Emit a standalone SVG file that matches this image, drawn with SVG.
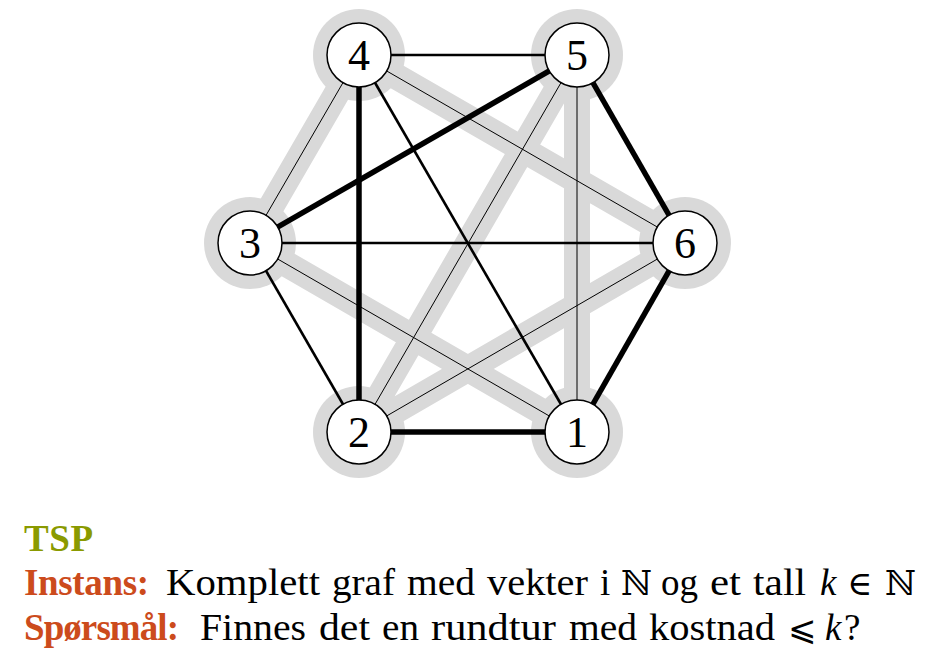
<svg xmlns="http://www.w3.org/2000/svg" width="932" height="671" viewBox="0 0 932 671">
<style>
.halo{fill:#d9d9d9}
.tour{stroke:#d9d9d9;stroke-width:26;stroke-linecap:round;stroke-linejoin:round;fill:none}
.e{stroke:#000;fill:none}
.thin{stroke-width:1}
.med{stroke-width:2.6}
.thick{stroke-width:5.5}
.node circle{fill:#fff;stroke:#000;stroke-width:1.5}
.node text{font-family:"Liberation Serif","DejaVu Serif",serif;font-size:44px;text-anchor:middle;fill:#000}
.t{font-family:"Liberation Serif","DejaVu Serif",serif;font-size:37px;fill:#000}
.b{font-weight:bold}
.g{fill:#8a9a00}
.o{fill:#cc4b1c}
.i{font-style:italic}
.m{font-family:"DejaVu Serif","DejaVu Sans",serif;font-size:34px}
.rel{font-family:"DejaVu Serif","DejaVu Sans",serif;font-size:34px}
</style>
<rect width="932" height="671" fill="#fff"/>
<g id="tour-highlight">
<circle class="halo" cx="359" cy="55" r="46"/>
<circle class="halo" cx="577" cy="55" r="46"/>
<circle class="halo" cx="250" cy="243" r="46"/>
<circle class="halo" cx="685" cy="243" r="46"/>
<circle class="halo" cx="359" cy="432" r="46"/>
<circle class="halo" cx="577" cy="432" r="46"/>
<path class="tour" d="M359,55 L250,243 L577,432 L577,55 L359,432 L685,243 Z"/>
</g>
<g id="connectors">
<line class="e med" x1="359" y1="55" x2="577" y2="55"/>
<line class="e thick" x1="359" y1="55" x2="359" y2="432"/>
<line class="e med" x1="359" y1="55" x2="577" y2="432"/>
<line class="e thin" x1="359" y1="55" x2="685" y2="243"/>
<line class="e thin" x1="359" y1="55" x2="250" y2="243"/>
<line class="e thick" x1="577" y1="55" x2="250" y2="243"/>
<line class="e thick" x1="577" y1="55" x2="685" y2="243"/>
<line class="e thin" x1="577" y1="55" x2="359" y2="432"/>
<line class="e thin" x1="577" y1="55" x2="577" y2="432"/>
<line class="e med" x1="250" y1="243" x2="685" y2="243"/>
<line class="e med" x1="250" y1="243" x2="359" y2="432"/>
<line class="e thin" x1="250" y1="243" x2="577" y2="432"/>
<line class="e thick" x1="359" y1="432" x2="577" y2="432"/>
<line class="e thin" x1="359" y1="432" x2="685" y2="243"/>
<line class="e thick" x1="685" y1="243" x2="577" y2="432"/>
</g>
<g id="n4" class="node"><circle cx="359" cy="55" r="32"/><text x="359" y="70">4</text></g>
<g id="n5" class="node"><circle cx="577" cy="55" r="32"/><text x="577" y="70">5</text></g>
<g id="n3" class="node"><circle cx="250" cy="243" r="32"/><text x="250" y="258">3</text></g>
<g id="n6" class="node"><circle cx="685" cy="243" r="32"/><text x="685" y="258">6</text></g>
<g id="n2" class="node"><circle cx="359" cy="432" r="32"/><text x="359" y="447">2</text></g>
<g id="n1" class="node"><circle cx="577" cy="432" r="32"/><text x="577" y="447">1</text></g>
<g id="caption">
<text class="t b g" x="24" y="551" textLength="69" lengthAdjust="spacing">TSP</text>
<text class="t b o" x="24" y="595" textLength="125" lengthAdjust="spacing">Instans:</text>
<text class="t" y="595"><tspan x="166" textLength="154" lengthAdjust="spacingAndGlyphs">Komplett</tspan><tspan x="332" textLength="63" lengthAdjust="spacingAndGlyphs">graf</tspan><tspan x="407" textLength="68" lengthAdjust="spacingAndGlyphs">med</tspan><tspan x="487" textLength="101" lengthAdjust="spacingAndGlyphs">vekter</tspan><tspan x="600">i</tspan><tspan class="m" x="621">ℕ</tspan><tspan x="661" textLength="37" lengthAdjust="spacingAndGlyphs">og</tspan><tspan x="710" textLength="31" lengthAdjust="spacingAndGlyphs">et</tspan><tspan x="753" textLength="53" lengthAdjust="spacingAndGlyphs">tall</tspan><tspan class="i" x="820">k</tspan><tspan class="m" x="847">∈</tspan><tspan class="m" x="885">ℕ</tspan></text>
<text class="t b o" x="24" y="640" textLength="155" lengthAdjust="spacing">Spørsmål:</text>
<text class="t" y="640"><tspan x="200" textLength="106" lengthAdjust="spacingAndGlyphs">Finnes</tspan><tspan x="319" textLength="51" lengthAdjust="spacingAndGlyphs">det</tspan><tspan x="382" textLength="37" lengthAdjust="spacingAndGlyphs">en</tspan><tspan x="431" textLength="125" lengthAdjust="spacingAndGlyphs">rundtur</tspan><tspan x="569" textLength="68" lengthAdjust="spacingAndGlyphs">med</tspan><tspan x="649" textLength="126" lengthAdjust="spacingAndGlyphs">kostnad</tspan><tspan class="rel" x="788">⩽</tspan><tspan class="i" x="825">k</tspan><tspan x="844">?</tspan></text>
</g>
</svg>
